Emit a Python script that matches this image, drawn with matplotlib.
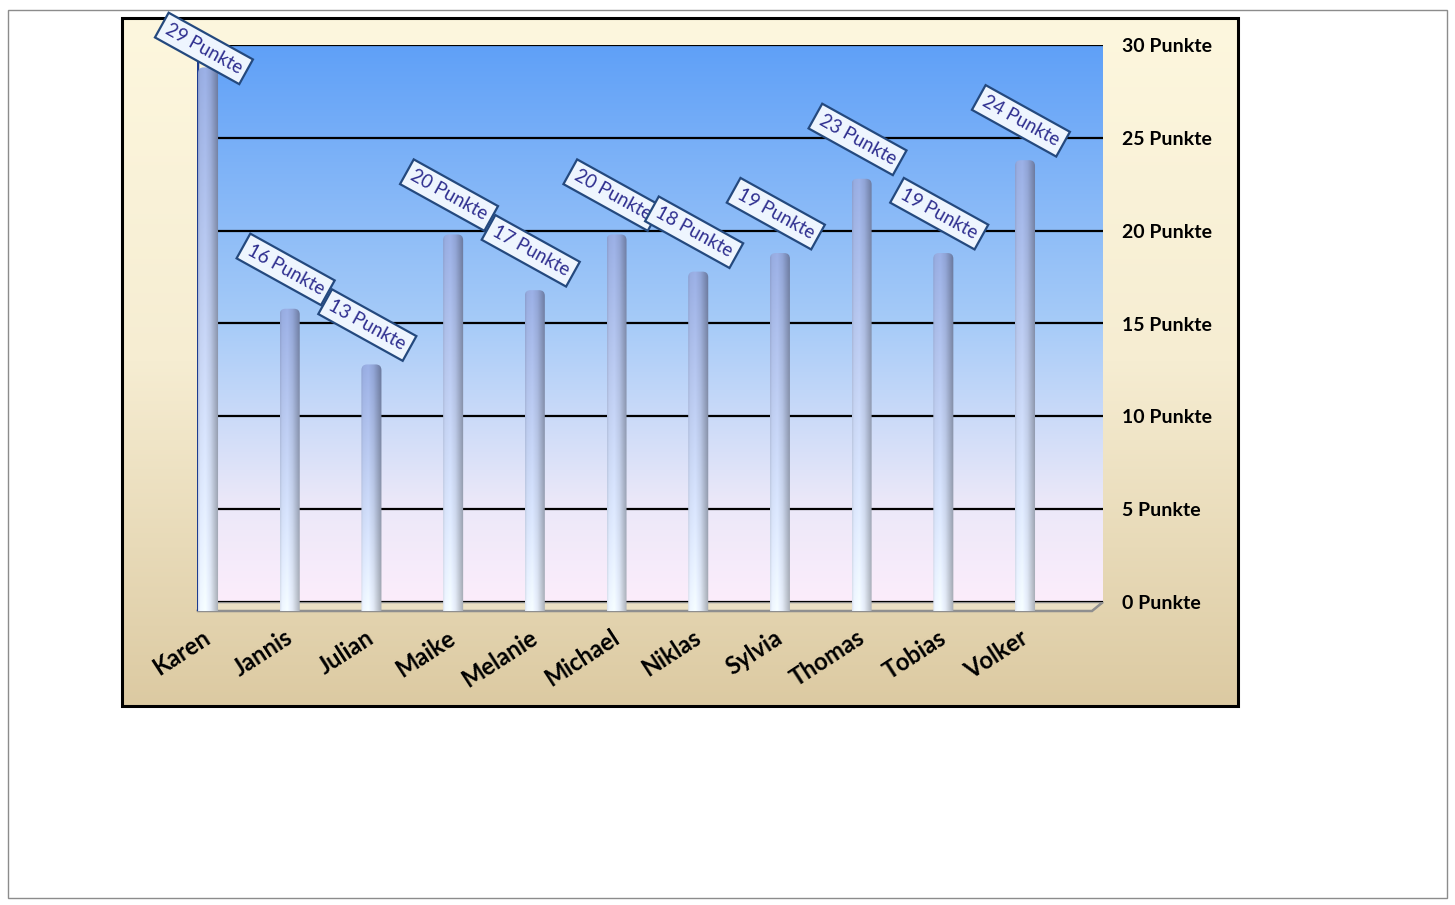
import numpy as np
import matplotlib.pyplot as plt
from matplotlib.colors import LinearSegmentedColormap, to_rgb
from matplotlib.patches import FancyBboxPatch, Rectangle, Polygon

plt.rcParams['font.family'] = ['Lato', 'DejaVu Sans']

# data
names = ["Karen", "Jannis", "Julian", "Maike", "Melanie", "Michael",
         "Niklas", "Sylvia", "Thomas", "Tobias", "Volker"]
points = [29, 16, 13, 20, 17, 20, 18, 19, 23, 19, 24]
y_ticks = [0, 5, 10, 15, 20, 25, 30]
tick_labels = [f"{t} Punkte" for t in y_ticks]

W, H = 1455, 905
fig = plt.figure(figsize=(W / 100, H / 100), dpi=100)


def px_box(x0, y0, x1, y1):
    # pixel box (origin top-left) -> figure fraction [l, b, w, h]
    return [x0 / W, 1 - y1 / H, (x1 - x0) / W, (y1 - y0) / H]


# background, chart area
bg = fig.add_axes([0, 0, 1, 1])
bg.axis('off')
grad = np.linspace(0, 1, 256).reshape(-1, 1)
cream = LinearSegmentedColormap.from_list('cream', ['#fdf7de', '#f6edd2', '#dccaa2'])
bg.imshow(grad, cmap=cream, extent=(122, 1238, 706, 18), aspect='auto', zorder=0)
bg.add_patch(Rectangle((8, 10), 1439, 888, fill=False, ec='#8c8c8c', lw=1))
bg.add_patch(Rectangle((122, 18), 1116, 688, fill=False, ec='black', lw=2.2, zorder=3))

# 3d depth offset in px (front plane is left and lower)
DX, DY = -11, 9
back = (208, 45, 1103, 602)
bg.add_patch(Polygon([(back[0], back[3]), (back[2], back[3]),
                      (back[2] + DX, back[3] + DY), (back[0] + DX, back[3] + DY)],
                     closed=True, fc='#ebe0c4', ec='#8f8f8f', lw=1.8, zorder=1))
bg.set_xlim(0, W)
bg.set_ylim(H, 0)

xlim = (-0.135, 10.82)
ylim = (0, 30)

# back wall
ax = fig.add_axes(px_box(*back))
wall = LinearSegmentedColormap.from_list(
    'wall', [(0, '#fcedfb'), (0.18, '#ebe8f9'), (0.5, '#a6cbf8'), (1, '#5fa0f7')])
ax.imshow(grad[::-1], cmap=wall, extent=(0, 1, 0, 1), transform=ax.transAxes,
          aspect='auto', zorder=0)
ax.set_yticks(y_ticks)
ax.set_yticklabels(tick_labels, fontweight='bold', fontsize=14)
ax.yaxis.tick_right()
ax.tick_params(axis='y', length=0, pad=13.7)
ax.set_xticks([])
ax.grid(axis='y', color='black', lw=1.6)
for s in ax.spines.values():
    s.set_visible(False)
ax.set_xlim(*xlim)
ax.set_ylim(*ylim)

# front plane for bars and labels
fa = fig.add_axes(px_box(back[0] + DX, back[1] + DY, back[2] + DX, back[3] + DY))
fa.patch.set_visible(False)
fa.axis('off')
fa.plot([0, 0], [0, 1], transform=fa.transAxes, color='#1d3b8f', lw=2.5)

# bar shading image
top_c = np.array(to_rgb('#93a7da'))
bot_c = np.array(to_rgb('#ebf2fc'))
t = np.linspace(0, 1, 64)
shade = np.interp(t, [0, 0.1, 0.35, 0.6, 0.8, 1], [0.94, 1.03, 1.06, 0.98, 0.84, 0.70])
vv = np.linspace(0, 1, 200).reshape(-1, 1, 1)
bar_img = (top_c * (1 - vv) + bot_c * vv) * shade.reshape(1, -1, 1)
bar_img = np.clip(bar_img, 0, 1)

w = 0.245
cap = 0.28   # visible top face of the 3d column
for i, v in enumerate(points):
    x0 = i - w / 2
    im = fa.imshow(bar_img, extent=(x0, x0 + w, -0.5, v + cap), aspect='auto',
                   interpolation='bilinear', zorder=2)
    clip = FancyBboxPatch((x0, -0.5), w, v + 0.5 + cap,
                          boxstyle='round,pad=0,rounding_size=0.07',
                          mutation_aspect=4.4, fc='none', ec='none')
    fa.add_patch(clip)
    im.set_clip_path(clip)

    fa.text(i - 0.05, min(v + 2.4, 30.3), f"{v} Punkte", rotation=-29,
            rotation_mode='anchor', ha='center', va='center', color='#2e2e8f',
            fontsize=13.5, zorder=5, clip_on=False,
            bbox=dict(boxstyle='square,pad=0.3', fc='#eef5fe', ec='#24497e', lw=1.6))

    fa.annotate(names[i], (i, 0), xytext=(-6, -15), textcoords='offset pixels',
                rotation=33, rotation_mode='anchor', ha='right', va='top',
                fontsize=17, fontweight='bold', color='black', annotation_clip=False)

fa.set_xlim(*xlim)
fa.set_ylim(*ylim)

plt.savefig('out.png', dpi=100)
